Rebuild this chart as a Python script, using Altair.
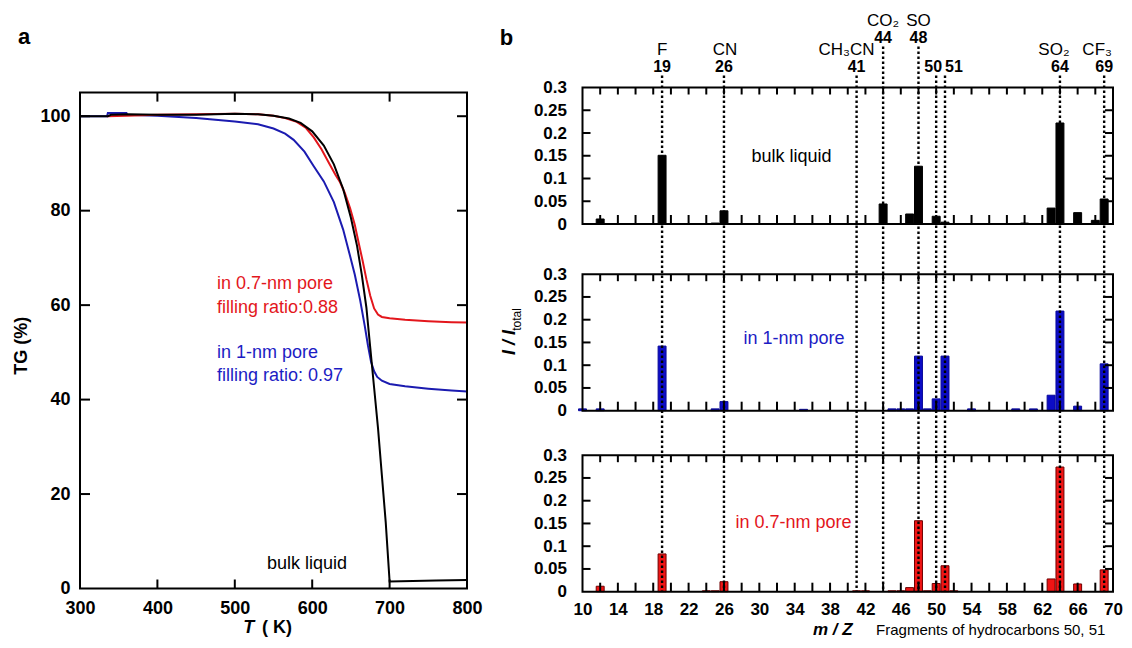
import altair as alt
import pandas as pd

# ===================== panel a : TG curves =====================
T_bulk = [300, 336, 340, 362, 400, 450, 500, 530, 550, 570, 585, 600, 615, 628, 640,
          650, 658, 664, 670, 675, 680, 685, 690, 695, 699, 700, 730, 760, 800]
TG_bulk = [100.0, 100.0, 100.3, 100.4, 100.3, 100.3, 100.5, 100.4, 100.1, 99.5, 98.6,
           96.8, 93.8, 89.8, 84.6, 78.5, 72.5, 66.5, 59.5, 51.0, 42.5, 34.0, 24.0,
           14.0, 4.0, 1.5, 1.6, 1.7, 1.8]

T_07 = [335, 360, 400, 450, 500, 530, 550, 565, 580, 592, 602, 612, 622, 630, 636,
        642, 649, 655, 660, 665, 670, 675, 680, 685, 690, 700, 720, 750, 780, 800]
TG_07 = [100.0, 100.1, 100.3, 100.4, 100.5, 100.4, 100.1, 99.6, 98.8, 97.5, 95.5,
         93.0, 90.0, 87.6, 86.0, 83.8, 80.5, 77.0, 73.2, 69.5, 65.5, 62.0, 59.3,
         58.0, 57.5, 57.2, 56.9, 56.6, 56.4, 56.3]

T_1 = [300, 335, 336, 360, 361, 400, 450, 500, 530, 550, 565, 576, 590, 602, 615,
       628, 640, 648, 655, 662, 668, 672, 676, 680, 684, 690, 700, 720, 750, 780, 800]
TG_1 = [100.0, 100.0, 100.7, 100.7, 100.3, 100.1, 99.6, 98.9, 98.3, 97.4, 96.3,
        95.0, 92.5, 89.4, 86.2, 81.8, 76.0, 71.0, 66.5, 61.0, 55.5, 51.5, 48.0,
        46.0, 44.8, 44.0, 43.3, 42.8, 42.3, 41.9, 41.7]

ta_xlab = [300, 400, 500, 600, 700, 800]
ta_ylab = [0, 20, 40, 60, 80, 100]

# ===================== panel b : mass fragments =====================
mz_bulk = [12, 19, 25, 26, 44, 47, 48, 50, 51, 60, 63, 64, 66, 68, 69]
I_bulk = [0.011, 0.151, 0.002, 0.029, 0.044, 0.022, 0.127, 0.017, 0.004, 0.002,
          0.035, 0.222, 0.025, 0.008, 0.055]

mz_1nm = [10, 12, 19, 25, 26, 35, 45, 46, 47, 48, 49, 50, 51, 54, 59, 61, 63, 64, 66, 69]
I_1nm = [0.004, 0.004, 0.142, 0.004, 0.020, 0.003, 0.004, 0.004, 0.004, 0.120,
         0.004, 0.026, 0.120, 0.004, 0.004, 0.004, 0.034, 0.219, 0.010, 0.103]

mz_07 = [12, 19, 24, 25, 26, 41, 42, 45, 46, 47, 48, 49, 50, 51, 52, 63, 64, 66, 69]
I_07 = [0.012, 0.083, 0.002, 0.002, 0.022, 0.002, 0.002, 0.002, 0.002, 0.009,
        0.156, 0.002, 0.018, 0.057, 0.002, 0.028, 0.274, 0.017, 0.048]

frag_mz = [19, 26, 41, 44, 48, 50, 51, 64, 69]
frag_num = ["19", "26", "41", "44", "48", "50", "51", "64", "69"]
frag_name = ["F", "CN", "CH₃CN", "CO₂", "SO", "", "", "SO₂", "CF₃"]
frag_row = [0, 0, 0, 1, 1, 0, 0, 0, 0]

tb_xlab = [10, 14, 18, 22, 26, 30, 34, 38, 42, 46, 50, 54, 58, 62, 66, 70]
tb_ylab = [0, 0.05, 0.1, 0.15, 0.2, 0.25, 0.3]

# ===================== layout / style =====================
W, H = 1116, 632
FONT = "Liberation Sans"
RED_L, BLUE_L = "#e3161c", "#1b1bb0"
RED_T, BLUE_T = "#e3161c", "#1c1cc4"
BAR_COLORS = ["#000000", "#0c0cc6", "#f01414"]
BAR_EDGE = ["#000000", "#0a0a9a", "#700000"]

A_DX, A_RX = [300, 800], [72, 459]
A_DY, A_RY = [0, 105], [580.5, 84.6]
B_DX, B_RX = [10, 70], [574.5, 1105]
B_DY = [0, 0.3]
B_RY = [[216, 79.5], [402.7, 266.2], [583.7, 447.2]]


def sc(dom, rng):
    return alt.Scale(domain=dom, range=rng, nice=False, zero=False)


def unit(dom, rng):  # data units per pixel
    return (dom[1] - dom[0]) / abs(rng[1] - rng[0])


def enc(chart, xs, ys, xaxis=None, yaxis=None, x2=True, y2=True):
    e = dict(x=alt.X("x:Q", scale=xs, axis=xaxis), y=alt.Y("y:Q", scale=ys, axis=yaxis))
    if x2:
        e["x2"] = "x2:Q"
    if y2:
        e["y2"] = "y2:Q"
    return chart.encode(**e)


def text(x, y, t, xs, ys, **kw):
    base = dict(font=FONT, fontSize=18, color="black", baseline="middle", align="left")
    base.update(kw)
    df = pd.DataFrame({"x": [x], "y": [y], "t": [t]})
    return alt.Chart(df).mark_text(**base).encode(
        x=alt.X("x:Q", scale=xs, axis=None), y=alt.Y("y:Q", scale=ys, axis=None), text="t:N")


def ticks_df(xt, yt, dx, dy, len_b, len_t, len_lr):
    rows = []
    for v in xt:
        rows.append(dict(x=v, x2=v, y=dy[0], y2=dy[0] + len_b))
        rows.append(dict(x=v, x2=v, y=dy[1], y2=dy[1] - len_t))
    for v in yt:
        rows.append(dict(x=dx[0], x2=dx[0] + len_lr, y=v, y2=v))
        rows.append(dict(x=dx[1], x2=dx[1] - len_lr, y=v, y2=v))
    return pd.DataFrame(rows)


layers = []

# ---------------- panel a ----------------
xa, ya = sc(A_DX, A_RX), sc(A_DY, A_RY)
ux_a, uy_a = unit(A_DX, A_RX), unit(A_DY, A_RY)

for T, TG, col in [(T_1, TG_1, BLUE_L), (T_07, TG_07, RED_L), (T_bulk, TG_bulk, "black")]:
    df = pd.DataFrame({"x": T, "y": TG})
    layers.append(enc(alt.Chart(df).mark_line(color=col, strokeWidth=2), xa, ya,
                      x2=False, y2=False))

ta_xt = [v for v in ta_xlab if A_DX[0] < v < A_DX[1]]
ta_yt = [v for v in ta_ylab if A_DY[0] < v < A_DY[1]]
layers.append(enc(alt.Chart(ticks_df(ta_xt, ta_yt, A_DX, A_DY, 9 * uy_a, 9 * uy_a, 10 * ux_a))
                  .mark_rule(color="black", strokeWidth=2), xa, ya))

frame_a = pd.DataFrame({"x": [A_DX[0]], "x2": [A_DX[1]], "y": [A_DY[0]], "y2": [A_DY[1]]})
ax_common = dict(labelFont=FONT, labelFontWeight="bold", labelColor="black", ticks=False,
                 tickSize=0, domain=False, grid=False, title=None, labelFlush=False,
                 labelOverlap=False)
layers.append(enc(alt.Chart(frame_a).mark_rect(fillOpacity=0, stroke="black", strokeWidth=2),
                  xa, ya,
                  xaxis=alt.Axis(orient="bottom", offset=A_RY[0] - H, values=ta_xlab,
                                 labelFontSize=18, labelPadding=11, **ax_common),
                  yaxis=alt.Axis(orient="left", offset=-A_RX[0], values=ta_ylab,
                                 labelFontSize=18, labelPadding=10, **ax_common)))

layers.append(text(477, 64.5, "in 0.7-nm pore", xa, ya, color=RED_T))
layers.append(text(477, 59.4, "filling ratio:0.88", xa, ya, color=RED_T))
layers.append(text(477, 49.9, "in 1-nm pore", xa, ya, color=BLUE_T))
layers.append(text(477, 44.9, "filling ratio: 0.97", xa, ya, color=BLUE_T))
layers.append(text(541.6, 5.1, "bulk liquid", xa, ya))
layers.append(text(300, 105, "a", xa, ya, align="center", dx=-56, dy=-56, fontSize=22,
                   fontWeight="bold"))
layers.append(text(300, 51.4, "TG (%)", xa, ya, align="center", angle=270, dy=-58,
                   fontWeight="bold"))
layers.append(text(518, 0, "T", xa, ya, align="center", dy=39, fontWeight="bold",
                   fontStyle="italic"))
layers.append(text(535, 0, "( K)", xa, ya, align="left", dy=39, fontWeight="bold"))

# ---------------- panel b ----------------
xb = sc(B_DX, B_RX)
ux_b = unit(B_DX, B_RX)
uy_b = unit(B_DY, B_RY[0])
yb = [sc(B_DY, r) for r in B_RY]

tb_xt = [v for v in range(12, 70, 2)]
tb_yt = [v for v in tb_ylab if B_DY[0] < v < B_DY[1]]

bar_sets = [(mz_bulk, I_bulk), (mz_1nm, I_1nm), (mz_07, I_07)]
for i, (mz, val) in enumerate(bar_sets):
    df = pd.DataFrame({"x": [m - 0.45 for m in mz], "x2": [m + 0.45 for m in mz],
                       "y": [0] * len(mz), "y2": val})
    layers.append(enc(alt.Chart(df).mark_rect(color=BAR_COLORS[i], stroke=BAR_EDGE[i],
                                              strokeWidth=1), xb, yb[i]))
    layers.append(enc(alt.Chart(ticks_df(tb_xt, tb_yt, B_DX, B_DY, 9 * uy_b, 7 * uy_b,
                                         8 * ux_b))
                      .mark_rule(color="black", strokeWidth=2), xb, yb[i]))

# dotted guide lines through all three panels
px_above = [12 if r == 0 else 41 for r in frag_row]
bottom_b1 = (B_RY[0][0] - B_RY[2][0]) * uy_b
guide = pd.DataFrame({"x": frag_mz, "y": [0.3 + p * uy_b for p in px_above],
                      "y2": [bottom_b1] * len(frag_mz)})
layers.append(enc(alt.Chart(guide).mark_rule(color="black", strokeWidth=2.4,
                                             strokeDash=[2.5, 2.5]),
                  xb, yb[0], x2=False))

for i in range(3):
    fr = pd.DataFrame({"x": [B_DX[0]], "x2": [B_DX[1]], "y": [B_DY[0]], "y2": [B_DY[1]]})
    xaxis = None
    if i == 2:
        xaxis = alt.Axis(orient="bottom", offset=B_RY[2][0] - H, values=tb_xlab,
                         labelFontSize=17, labelPadding=10, **ax_common)
    yaxis = alt.Axis(orient="left", offset=-B_RX[0], values=tb_ylab, format="~g",
                     labelFontSize=17, labelPadding=16, **ax_common)
    layers.append(enc(alt.Chart(fr).mark_rect(fillOpacity=0, stroke="black", strokeWidth=2),
                      xb, yb[i], xaxis=xaxis, yaxis=yaxis))

# header labels
name_dx = [0, 1, 18, 0, 0, 0, 0, -6, -7]
name_al = ["center", "center", "right", "center", "center", "center", "center", "center",
           "center"]
num_dx = [0, 0, 0, 0, 0, -3, 9, 0, 0]
for m, nm, num, row, ndx, nal, udx in zip(frag_mz, frag_name, frag_num, frag_row, name_dx,
                                          name_al, num_dx):
    name_dy, num_dy = (-37.5, -20.5) if row == 0 else (-67, -50)
    if nm:
        layers.append(text(m, 0.3, nm, xb, yb[0], align=nal, dx=ndx, dy=name_dy,
                           fontSize=17))
    layers.append(text(m, 0.3, num, xb, yb[0], align="center", dx=udx, dy=num_dy,
                       fontSize=16, fontWeight="bold"))

layers.append(text(10, 0.3, "b", xb, yb[0], align="center", dx=-76, dy=-50, fontSize=22,
                   fontWeight="bold"))
layers.append(text(29.1, 0.148, "bulk liquid", xb, yb[0]))
layers.append(text(28.2, 0.158, "in 1-nm pore", xb, yb[1], color=BLUE_T))
layers.append(text(27.3, 0.152, "in 0.7-nm pore", xb, yb[2], color=RED_T))

# y title of panel b: I / I_total
layers.append(text(10, 0.15, "I / I", xb, yb[1], align="center", angle=270, dy=-73,
                   fontWeight="bold", fontStyle="italic"))
layers.append(text(10, 0.15, "total", xb, yb[1], align="center", angle=270, dx=23,
                   dy=-66, fontSize=12))
# x title of panel b
layers.append(text(38.3, 0, "m / Z", xb, yb[2], align="center", dy=38, fontSize=17,
                   fontWeight="bold", fontStyle="italic"))
layers.append(text(43.2, 0, "Fragments of hydrocarbons 50, 51", xb, yb[2], align="left",
                   dy=38, fontSize=15))

chart = (
    alt.layer(*layers)
    .resolve_scale(x="independent", y="independent")
    .properties(width=W, height=H, padding=0, autosize=alt.AutoSizeParams(type="none"),
                background="white")
    .configure_view(stroke="transparent")
)

chart.save("out.html", embed_options={"renderer": "svg", "actions": False})
